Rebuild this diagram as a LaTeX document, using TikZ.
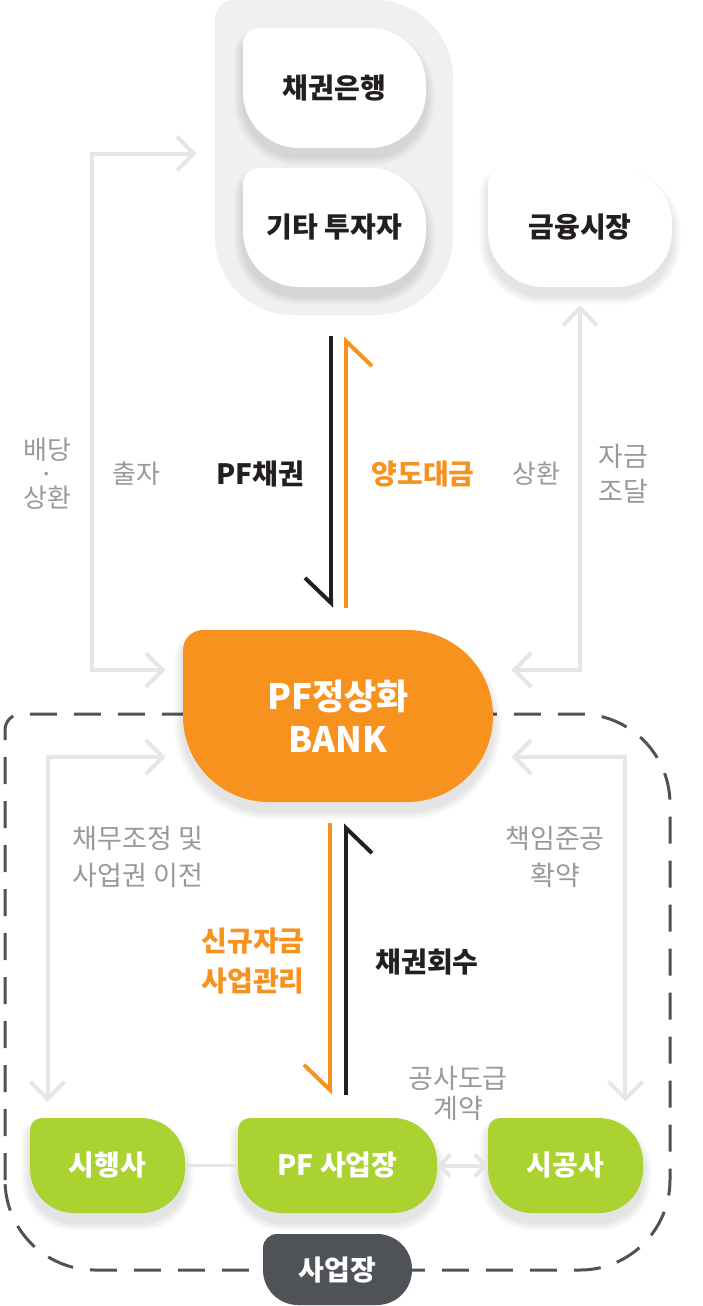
\documentclass[tikz,border=0pt]{standalone}
\usepackage{fontspec}
\setmainfont{Noto Sans CJK KR}
\usetikzlibrary{arrows.meta}
\definecolor{pforange}{HTML}{F7921E}
\definecolor{pfgreen}{HTML}{AAD231}
\definecolor{pfdark}{HTML}{4F5357}
\definecolor{pfline}{HTML}{E6E6E6}
\definecolor{pfback}{HTML}{F0F0F0}
\definecolor{pftext}{HTML}{999999}
\definecolor{pfblack}{HTML}{231F20}
\def\leafbox[#1](#2,#3)(#4,#5)(#6:#7){\path[#1] ({#2},{-(#5)+(#7)}) -- ({#2},{-(#3)-(#6)}) arc[start angle=180,end angle=90,radius={#6}] -- ({(#4)-(#7)},{-(#3)}) arc[start angle=90,end angle=0,radius={#7}] -- ({#4},{-(#5)+(#7)}) arc[start angle=0,end angle=-90,radius={#7}] -- ({(#2)+(#7)},{-(#5)}) arc[start angle=270,end angle=180,radius={#7}] -- cycle;}
\def\leafshadow(#1,#2)(#3,#4)(#5:#6){\foreach \s in {1,...,9}{\leafbox[fill=black,fill opacity=0.012](#1-\s,#2+9-\s)(#3+\s,#4+9+\s)(#5+\s:#6+\s)}}
\tikzset{
	boxtext/.style={font=\bfseries\fontsize{14}{16}\selectfont,text=pfblack,inner sep=0pt},
	whitetext/.style={font=\bfseries\fontsize{14}{16}\selectfont,text=white,inner sep=0pt},
	sidelabel/.style={font=\fontsize{13.5}{17.5}\selectfont,text=pftext,align=center},
	flowline/.style={draw=pfline,line width=2pt,arrows={Straight Barb[length=8.5pt,width=17pt]-Straight Barb[length=8.5pt,width=17pt]}},
	bondline/.style={line width=2pt,-{Straight Barb[harpoon,swap,length=12.5pt,width=26pt]}}
}

\begin{document}
\begin{tikzpicture}[x=0.5pt,y=0.5pt]
			%%%%% START %%%%%
			\useasboundingbox (0,0) rectangle (702,-1306);
			
			% lenders group
			\leafbox[fill=pfback](215,0)(453,315)(18:78)
			\node[minimum width=119pt,minimum height=157.5pt,inner sep=0pt] (lenders) at (334,-157.5) {};
			
			\leafshadow(243,28)(426,148)(16:56)
			\leafbox[fill=white](243,28)(426,148)(16:56)
			\node[boxtext,minimum width=91.5pt,minimum height=60pt] (creditor) at (334.5,-88) {채권은행};
			\leafshadow(243,168)(426,287)(16:56)
			\leafbox[fill=white](243,168)(426,287)(16:56)
			\node[boxtext,minimum width=91.5pt,minimum height=59.5pt] (investor) at (334.5,-227.5) {기타 투자자};
			\leafshadow(488,168)(672,287)(16:56)
			\leafbox[fill=white](488,168)(672,287)(16:56)
			\node[boxtext,minimum width=92pt,minimum height=59.5pt] (market) at (580,-227.5) {금융시장};
			
			% business site zone
			\leafbox[draw=pfdark,line width=1.5pt,dash pattern=on 13.5pt off 8.5pt](5,714)(670,1270)(16:90)
			
			\leafshadow(183,630)(493,802)(20:86)
			\leafbox[fill=pforange](183,630)(493,802)(20:86)
			\node[whitetext,font=\bfseries\fontsize{17.5}{21.5}\selectfont,align=center,minimum width=155pt,minimum height=86pt] (bank) at (338,-716) {PF정상화\\BANK};
			
			\leafshadow(30,1118)(185,1213)(12:44)
			\leafbox[fill=pfgreen](30,1118)(185,1213)(12:44)
			\node[whitetext,minimum width=77.5pt,minimum height=47.5pt] (dev) at (107.5,-1165.5) {시행사};
			\leafshadow(238,1118)(437,1213)(12:44)
			\leafbox[fill=pfgreen](238,1118)(437,1213)(12:44)
			\node[whitetext,minimum width=99.5pt,minimum height=47.5pt] (site) at (337.5,-1165.5) {PF 사업장};
			\leafshadow(488,1118)(643,1213)(12:44)
			\leafbox[fill=pfgreen](488,1118)(643,1213)(12:44)
			\node[whitetext,minimum width=77.5pt,minimum height=47.5pt] (builder) at (565.5,-1165.5) {시공사};
			
			\leafbox[fill=pfdark](263,1234)(412,1305)(14:35)
			\node[whitetext,minimum width=74.5pt,minimum height=35.5pt] (zone) at (337.5,-1270) {사업장};
			
			% gray flows
			\draw[flowline] ([xshift=-8.5pt,yshift=23pt]bank.west) -- ++(-37pt,0) |- ([xshift=-9pt,yshift=2pt]lenders.west);
			\draw[flowline] ([yshift=-9pt]market.south) |- ([xshift=9pt,yshift=23pt]bank.east);
			\draw[flowline] ([xshift=-8.5pt,yshift=-20.5pt]bank.west) -| ([xshift=9pt,yshift=8pt]dev.north west);
			\draw[flowline] ([xshift=9pt,yshift=-20.5pt]bank.east) -| ([xshift=-9pt,yshift=8pt]builder.north east);
			\draw[draw=pfline,line width=1.5pt] (dev.east) -- (site.west);
			\draw[flowline,arrows={Straight Barb[length=5pt,width=11pt]-Straight Barb[length=5pt,width=11pt]}] (site.east) -- (builder.west);
			
			% bond and money flows
			\draw[bondline,pfblack] ([xshift=-1.75pt,yshift=-24.5pt]investor.south) -- ([xshift=-3.5pt,yshift=11pt]bank.north);
			\draw[bondline,pforange] ([xshift=4pt,yshift=11pt]bank.north) -- ([xshift=5.75pt,yshift=-24.5pt]investor.south);
			\draw[bondline,pforange] ([xshift=-4pt,yshift=-10.5pt]bank.south) -- ([xshift=-3.75pt,yshift=11.5pt]site.north);
			\draw[bondline,pfblack] ([xshift=4.25pt,yshift=11.5pt]site.north) -- ([xshift=4pt,yshift=-10.5pt]bank.south);
			
			% labels
			\node[sidelabel,font=\fontsize{13}{12}\selectfont] (payback) at (47,-474) {배당\\·\\상환};
			\node[sidelabel,font=\fontsize{13}{16}\selectfont] (invest) at (136,-474) {출자};
			\node[boxtext] (bondlbl) at (260,-474) {PF채권};
			\node[boxtext,text=pforange] (pricelbl) at (423,-474) {양도대금};
			\node[sidelabel,font=\fontsize{13}{16}\selectfont] (repay) at (536,-474) {상환};
			\node[sidelabel] (funding) at (623,-474) {자금\\조달};
			\node[sidelabel,font=\fontsize{13.5}{18.5}\selectfont] (restruct) at (138,-857) {채무조정 및\\사업권 이전};
			\node[sidelabel,font=\fontsize{13.5}{18.5}\selectfont] (pledge) at (555,-857) {책임준공\\확약};
			\node[boxtext,text=pforange,align=center,font=\bfseries\fontsize{14}{20}\selectfont] (newfund) at (253,-961) {신규자금\\사업관리};
			\node[boxtext] (collect) at (427,-962) {채권회수};
			\node[sidelabel,font=\fontsize{13.5}{15}\selectfont] (contract) at (458,-1093) {공사도급\\계약};
			
			%%%%% END %%%%%
\end{tikzpicture}
\end{document}
